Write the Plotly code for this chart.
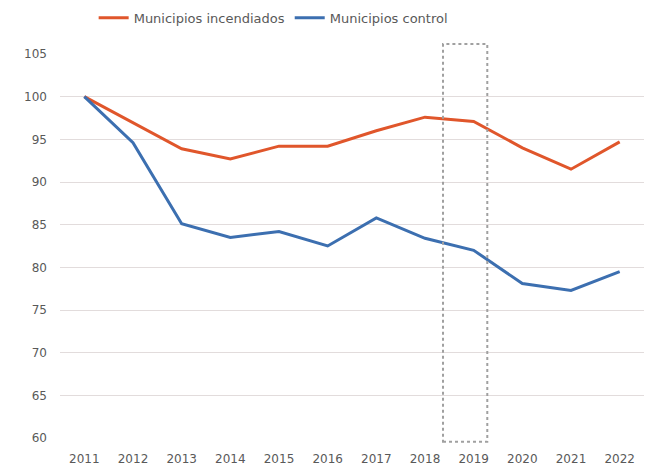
import plotly.graph_objects as go

years = [2011, 2012, 2013, 2014, 2015, 2016, 2017, 2018, 2019, 2020, 2021, 2022]
incendiados = [100, 96.9, 93.9, 92.7, 94.2, 94.2, 96.0, 97.6, 97.1, 94.0, 91.5, 94.7]
control = [100, 94.6, 85.1, 83.5, 84.2, 82.5, 85.8, 83.4, 82.0, 78.1, 77.3, 79.5]
y_ticks = [60, 65, 70, 75, 80, 85, 90, 95, 100, 105]

font_family = "'DejaVu Sans', sans-serif"
text_color = "#595959"

fig = go.Figure()
fig.add_trace(go.Scatter(x=years, y=incendiados, mode="lines", name="Municipios incendiados",
                         line=dict(color="#E0562B", width=3)))
fig.add_trace(go.Scatter(x=years, y=control, mode="lines", name="Municipios control",
                         line=dict(color="#3C6FB0", width=3)))

# dotted highlight box around 2019
fig.add_shape(type="rect", xref="x", yref="paper", x0=2018.37, x1=2019.28, y0=-0.01, y1=1.026,
              line=dict(color="#A0A0A0", width=2, dash="dot"), fillcolor="rgba(0,0,0,0)", layer="above")

fig.update_layout(
    width=644, height=461,
    margin=dict(l=52, r=8, t=46, b=31, autoexpand=False),
    paper_bgcolor="white", plot_bgcolor="white",
    font=dict(family=font_family, size=12, color=text_color),
    showlegend=True,
    legend=dict(orientation="h", x=0.365, xanchor="center", y=1.094, yanchor="middle",
                font=dict(size=13, color=text_color), tracegroupgap=0),
    xaxis=dict(range=[2010.5, 2022.5], tickmode="array", tickvals=years, ticktext=[str(y) for y in years],
               showgrid=False, zeroline=False, showline=False, ticks="", ticklabelstandoff=12,
               automargin=False),
    yaxis=dict(range=[60, 105], tickmode="array", tickvals=y_ticks, showgrid=True, gridcolor="#E2DCDC",
               gridwidth=1, zeroline=False, showline=False, ticks="", ticklabelstandoff=12,
               automargin=False),
)

fig.write_html("out.html")
